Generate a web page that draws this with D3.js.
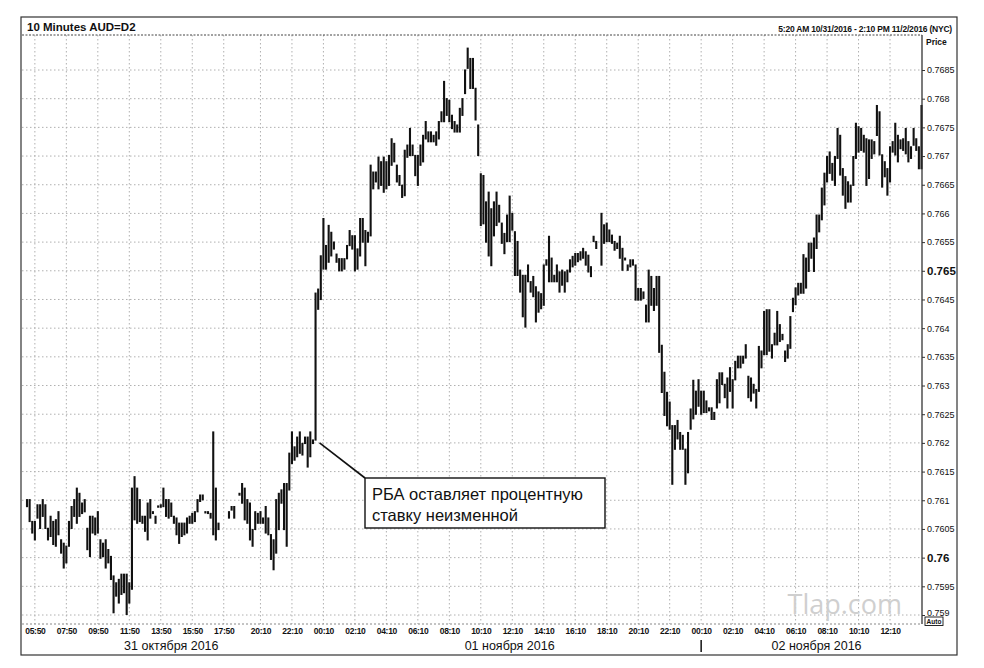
<!DOCTYPE html>
<html>
<head>
<meta charset="utf-8">
<script src="https://cdn.jsdelivr.net/npm/d3@7"></script>
<style>
	body { margin: 0; background: #fff; }
	svg { font-family: 'Liberation Sans', Arial, sans-serif; }
</style>
</head>
<body>
<svg id="chart" width="984" height="668"></svg>
<script>
// 10-minute AUD bars, 10/31/2016 05:20 .. 11/2/2016 14:10 (NYC)

var startTime = '10/31/2016 05:20';
var endTime = '11/02/2016 14:10';

// bar highs, one per 10 minutes (null = no trade)
var highs = [
	.76101, .76101, .76063, .76063, .76092, .76092, .76101, .76092, .76051, .76072, .76063, .76066,
	.76080, .76031, .76025, .76020, .76063, .76089, .76101, .76121, .76112, .76095, .76101, .76051,
	.76072, .76072, .76069, .76080, .76031, .76025, .76031, .76014, .76002, .75968, .75956, .75962,
	.75971, .75971, .75971, .75956, .76121, .76141, .76121, .76101, .76072, .76072, .76095, .76101,
	.76080, .76072, .76090, .76092, .76121, .76101, .76101, .76095, .76072, .76069, .76060, .76060,
	.76060, .76069, .76072, .76077, .76080, .76101, .76109, .76109, .76080, .76080, .76077, .76219,
	.76121, .76060, null, null, null, .76080, .76089, .76089, null, .76112, .76129, .76121,
	.76101, .76095, .76049, .76080, .76077, .76080, .76069, .76089, .76069, .76040, .76031, .76101,
	.76112, .76118, .76129, .76129, .76182, .76219, .76193, .76210, .76219, .76199, .76210, .76210,
	.76219, .76205, .76461, .76468, .76526, .76591, .76544, .76579, .76567, .76550, .76529, .76521,
	.76521, .76521, .76544, .76570, .76561, .76561, .76538, .76591, .76591, .76570, .76567, .76684,
	.76672, .76672, .76698, .76690, .76698, .76690, .76701, .76730, .76722, .76684, .76666, .76649,
	.76710, .76719, .76748, .76719, .76701, .76701, .76719, .76736, .76760, .76742, .76742, .76736,
	.76742, .76760, .76777, .76830, .76800, .76797, .76771, .76760, .76754, .76783, .76800, .76850,
	.76888, .76870, .76870, .76818, .76754, .76669, .76666, .76620, .76637, .76608, .76620, .76637,
	.76614, .76583, .76565, .76597, .76630, .76600, .76568, .76551, .76501, .76492, .76492, .76510,
	.76481, .76490, .76472, .76463, .76460, .76510, .76519, .76560, .76522, .76492, .76510, .76498,
	.76501, .76498, .76501, .76519, .76525, .76530, .76530, .76533, .76539, .76533, .76527, .76507,
	.76560, .76551, null, .76600, .76580, .76583, .76571, .76562, .76551, .76548, .76560, .76539,
	.76522, .76510, .76519, .76519, .76510, .76469, .76469, .76463, .76440, .76501, .76490, .76469,
	.76490, .76490, .76370, .76323, .76288, .76271, .76230, .76230, .76239, .76218, .76213, .76189,
	.76218, .76259, .76309, .76290, .76310, .76290, .76290, .76273, .76261, .76261, .76253, .76310,
	.76322, .76322, .76302, .76313, .76331, .76310, .76342, .76351, .76351, .76351, .76371, .76316,
	.76313, .76302, .76293, .76368, .76360, .76429, .76432, .76432, .76371, .76391, .76429, .76406,
	.76389, .76360, .76371, .76420, .76452, .76470, .76478, .76478, .76528, .76522, .76548, .76548,
	.76557, .76597, .76597, .76644, .76670, .76699, .76707, .76687, .76699, .76748, .76736, .76678,
	.76664, .76655, .76649, .76699, .76757, .76751, .76748, .76736, .76730, .76728, .76728, .76725,
	.76788, .76777, .76702, .76690, .76678, .76716, .76725, .76757, .76736, .76728, .76730, .76748,
	.76725, .76716, .76748, .76730, .76716, .76788
];

// bar lows
var lows = [
	.76089, .76063, .76043, .76031, .76069, .76051, .76072, .76051, .76031, .76037, .76023, .76020,
	.76040, .76008, .75982, .75991, .76020, .76051, .76072, .76060, .76072, .76077, .76080, .76014,
	.76002, .76043, .76040, .76043, .75999, .76002, .75982, .75991, .75962, .75904, .75933, .75921,
	.75936, .75939, .75901, .75921, .75945, .76066, .76060, .76063, .76060, .76046, .76031, .76069,
	.76077, .76060, .76088, .76088, .76089, .76072, .76069, .76072, .76060, .76040, .76025, .76037,
	.76040, .76043, .76060, .76060, .76063, .76080, .76098, .76101, .76078, .76077, .76069, .76040,
	.76031, .76049, null, null, null, .76069, .76083, .76069, null, .76109, .76095, .76066,
	.76060, .76031, .76020, .76049, .76060, .76060, .76060, .76043, .76040, .75997, .75979, .76008,
	.76049, .76095, .76049, .76020, .76118, .76164, .76170, .76176, .76182, .76179, .76199, .76158,
	.76176, .76199, .76205, .76433, .76450, .76503, .76503, .76515, .76526, .76538, .76515, .76500,
	.76500, .76503, .76521, .76544, .76538, .76500, .76503, .76526, .76550, .76509, .76550, .76561,
	.76643, .76655, .76643, .76649, .76637, .76643, .76649, .76684, .76690, .76655, .76649, .76628,
	.76631, .76698, .76701, .76701, .76666, .76649, .76684, .76690, .76730, .76725, .76725, .76725,
	.76719, .76730, .76760, .76760, .76771, .76760, .76748, .76742, .76742, .76742, .76771, .76809,
	.76853, .76818, .76818, .76763, .76701, .76579, .76582, .76550, .76526, .76509, .76561, .76579,
	.76585, .76548, .76530, .76551, .76551, .76571, .76492, .76492, .76463, .76420, .76402, .76481,
	.76463, .76455, .76411, .76428, .76434, .76440, .76510, .76481, .76481, .76481, .76481, .76463,
	.76475, .76463, .76481, .76498, .76507, .76510, .76516, .76519, .76522, .76510, .76498, .76490,
	.76551, .76539, null, .76510, .76548, .76551, .76551, .76548, .76536, .76539, .76522, .76501,
	.76519, .76501, .76507, .76510, .76449, .76449, .76449, .76452, .76411, .76411, .76440, .76431,
	.76440, .76358, .76288, .76248, .76230, .76224, .76128, .76189, .76207, .76189, .76189, .76128,
	.76148, .76224, .76242, .76250, .76264, .76250, .76253, .76253, .76256, .76241, .76241, .76261,
	.76270, .76302, .76279, .76261, .76290, .76261, .76310, .76331, .76331, .76339, .76348, .76279,
	.76273, .76287, .76261, .76290, .76331, .76354, .76354, .76360, .76348, .76371, .76371, .76377,
	.76380, .76342, .76348, .76365, .76429, .76441, .76458, .76461, .76461, .76470, .76499, .76522,
	.76499, .76539, .76568, .76589, .76615, .76655, .76670, .76658, .76649, .76696, .76667, .76632,
	.76609, .76620, .76620, .76649, .76696, .76707, .76710, .76707, .76649, .76661, .76696, .76704,
	.76736, .76702, .76646, .76664, .76632, .76655, .76707, .76702, .76690, .76713, .76710, .76704,
	.76690, .76696, .76719, .76710, .76678, .76678
];

var priceTicks = [0.759, 0.7595, 0.76, 0.7605, 0.761, 0.7615, 0.762, 0.7625, 0.763, 0.7635,
	0.764, 0.7645, 0.765, 0.7655, 0.766, 0.7665, 0.767, 0.7675, 0.768, 0.7685];
var boldTicks = [0.76, 0.765];

var timeTicks = ['10/31/2016 05:50', '10/31/2016 07:50', '10/31/2016 09:50', '10/31/2016 11:50',
	'10/31/2016 13:50', '10/31/2016 15:50', '10/31/2016 17:50', '10/31/2016 20:10', '10/31/2016 22:10',
	'11/01/2016 00:10', '11/01/2016 02:10', '11/01/2016 04:10', '11/01/2016 06:10', '11/01/2016 08:10',
	'11/01/2016 10:10', '11/01/2016 12:10', '11/01/2016 14:10', '11/01/2016 16:10', '11/01/2016 18:10',
	'11/01/2016 20:10', '11/01/2016 22:10', '11/02/2016 00:10', '11/02/2016 02:10', '11/02/2016 04:10',
	'11/02/2016 06:10', '11/02/2016 08:10', '11/02/2016 10:10', '11/02/2016 12:10'];

var dayLabels = ['31 октября 2016', '01 ноября 2016', '02 ноября 2016'];
var dayLabelTimes = ['10/31/2016 14:30', '11/01/2016 12:00', '11/02/2016 07:30'];
var daySeparator = '11/02/2016 00:10';

var title = '10 Minutes AUD=D2';
var rangeText = '5:20 AM 10/31/2016 - 2:10 PM 11/2/2016 (NYC)';
var noteLines = ['РБА оставляет процентную', 'ставку неизменной'];
var noteTime = '10/31/2016 23:40';
var notePrice = 0.7620;

var parse = d3.timeParse('%m/%d/%Y %H:%M');
var fmt = d3.timeFormat('%H:%M');

var svg = d3.select('svg#chart');

// plot box (note: "top" is reserved on window, so prefix everything)
var plotLeft = 22, plotRight = 922, plotTop = 35, plotBottom = 624;

var t0 = parse(startTime);
var bars = highs.map(function (h, i) {
	return { t: new Date(t0.getTime() + i * 600000), high: h, low: lows[i] };
}).filter(function (d) {
	return d.high != null;
});

var xScale = d3.scaleTime().domain([t0, parse(endTime)]).range([27, 921.5]);
var yScale = d3.scaleLinear().domain([0.759, 0.7685]).range([615, 70]);

// outer frame
svg.append('rect')
	.attr('x', 21).attr('y', 17)
	.attr('width', 936).attr('height', 638)
	.style('fill', 'none')
	.style('stroke', '#333')
	.style('stroke-width', 1.2);

// grid
svg.append('g')
	.selectAll('line')
	.data(priceTicks)
	.enter()
	.append('line')
	.attr('x1', plotLeft).attr('x2', plotRight)
	.attr('y1', function (d) { return yScale(d); })
	.attr('y2', function (d) { return yScale(d); })
	.style('stroke', '#b0b0b0')
	.style('stroke-dasharray', '1.5,2.5');

svg.append('g')
	.selectAll('line')
	.data(timeTicks)
	.enter()
	.append('line')
	.attr('x1', function (d) { return xScale(parse(d)); })
	.attr('x2', function (d) { return xScale(parse(d)); })
	.attr('y1', plotTop).attr('y2', plotBottom)
	.style('stroke', '#b0b0b0')
	.style('stroke-dasharray', '1.5,2.5');

// plot borders
svg.append('line')
	.attr('x1', plotLeft).attr('x2', plotRight).attr('y1', plotTop).attr('y2', plotTop)
	.style('stroke', '#444').style('stroke-dasharray', '2,1.5');
svg.append('line')
	.attr('x1', plotLeft).attr('x2', plotRight).attr('y1', plotBottom).attr('y2', plotBottom)
	.style('stroke', '#888').style('stroke-dasharray', '2,2');

// price bars
svg.append('g')
	.selectAll('line')
	.data(bars)
	.enter()
	.append('line')
	.attr('x1', function (d) { return xScale(d.t); })
	.attr('x2', function (d) { return xScale(d.t); })
	.attr('y1', function (d) { return yScale(d.high) - 0.6; })
	.attr('y2', function (d) { return yScale(d.low) + 0.6; })
	.style('stroke', '#111')
	.style('stroke-width', 2.1);

// right price axis
var yAxis = d3.axisRight(yScale)
	.tickValues(priceTicks)
	.tickFormat(d3.format('.4~f'))
	.tickSize(3);

var yg = svg.append('g')
	.attr('transform', 'translate(' + plotRight + ',0)')
	.call(yAxis);
yg.select('.domain').attr('d', 'M0,' + plotTop + 'V' + plotBottom)
	.style('stroke', '#333').style('stroke-width', 1.3);
yg.selectAll('.tick line').style('stroke', '#333');
yg.selectAll('.tick text')
	.attr('x', 5)
	.attr('dy', function (d) { return d === 0.759 ? '0.1em' : '0.32em'; })
	.style('font-family', "'Liberation Sans', Arial, sans-serif")
	.style('font-size', function (d) {
		return boldTicks.indexOf(d) >= 0 ? '11.5px' : '9px';
	})
	.style('font-weight', function (d) {
		return boldTicks.indexOf(d) >= 0 ? 'bold' : 'normal';
	})
	.style('fill', '#111');

// bottom time axis
var xAxis = d3.axisBottom(xScale)
	.tickValues(timeTicks.map(parse))
	.tickFormat(fmt)
	.tickSize(0);

var xg = svg.append('g')
	.attr('transform', 'translate(0,' + plotBottom + ')')
	.call(xAxis);
xg.select('.domain').remove();
xg.selectAll('.tick text')
	.attr('y', 10)
	.attr('dy', 0)
	.style('font-family', "'Liberation Sans', Arial, sans-serif")
	.style('font-size', '8.5px')
	.style('font-weight', 'bold')
	.style('letter-spacing', '-0.3px')
	.style('fill', '#111');

// day labels
svg.append('g')
	.selectAll('text')
	.data(dayLabels)
	.enter()
	.append('text')
	.attr('x', function (d, i) { return xScale(parse(dayLabelTimes[i])); })
	.attr('y', 650)
	.style('text-anchor', 'middle')
	.style('font-size', '12.5px')
	.style('fill', '#111')
	.text(function (d) { return d; });

svg.append('line')
	.attr('x1', xScale(parse(daySeparator))).attr('x2', xScale(parse(daySeparator)))
	.attr('y1', 640).attr('y2', 652)
	.style('stroke', '#111').style('stroke-width', 1.5);

// header texts
svg.append('text')
	.attr('x', 27).attr('y', 31)
	.style('font-size', '11.5px')
	.style('font-weight', 'bold')
	.style('fill', '#111')
	.text(title);

svg.append('text')
	.attr('x', 952).attr('y', 32)
	.style('text-anchor', 'end')
	.style('font-size', '8.5px')
	.style('font-weight', 'bold')
	.style('letter-spacing', '-0.2px')
	.style('fill', '#111')
	.text(rangeText);

svg.append('text')
	.attr('x', 926).attr('y', 45)
	.style('font-size', '8.5px')
	.style('font-weight', 'bold')
	.style('fill', '#111')
	.text('Price');

// auto box
svg.append('rect')
	.attr('x', 925).attr('y', 617).attr('width', 18).attr('height', 8.5)
	.style('fill', 'none').style('stroke', '#111').style('stroke-width', 0.9);
svg.append('text')
	.attr('x', 934).attr('y', 624)
	.style('text-anchor', 'middle')
	.style('font-size', '6.5px')
	.style('font-weight', 'bold')
	.style('fill', '#111')
	.text('Auto');

// watermark
svg.append('text')
	.attr('x', 902).attr('y', 614)
	.style('text-anchor', 'end')
	.style('font-family', "'Open Sans', 'Liberation Sans', sans-serif")
	.style('font-size', '27px')
	.style('fill', '#cfcfcf')
	.text('Tlap.com');

// annotation
var nx = xScale(parse(noteTime)) + 4;
var ny = yScale(notePrice);
var boxX = 365, boxY = 478, boxW = 240, boxH = 50;

svg.append('line')
	.attr('x1', nx).attr('y1', ny)
	.attr('x2', boxX).attr('y2', boxY)
	.style('stroke', '#111')
	.style('stroke-width', 1.6);

svg.append('rect')
	.attr('x', boxX).attr('y', boxY)
	.attr('width', boxW).attr('height', boxH)
	.style('fill', '#fff')
	.style('stroke', '#111')
	.style('stroke-width', 1.4);

svg.append('g')
	.selectAll('text')
	.data(noteLines)
	.enter()
	.append('text')
	.attr('x', boxX + 7)
	.attr('y', function (d, i) { return boxY + 22 + i * 21; })
	.style('font-size', '16.5px')
	.style('fill', '#111')
	.text(function (d) { return d; });
</script>
</body>
</html>
